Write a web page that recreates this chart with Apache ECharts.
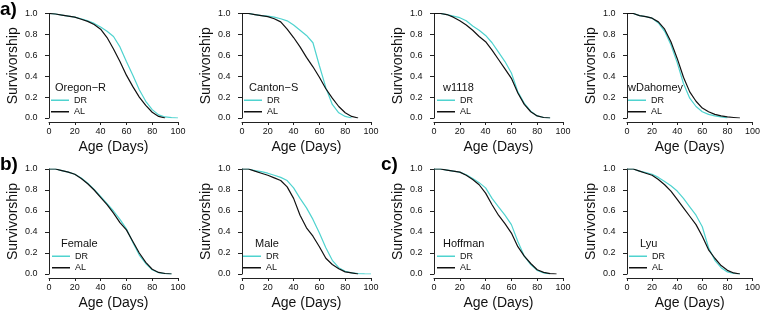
<!DOCTYPE html>
<html><head><meta charset="utf-8">
<script src="https://cdn.jsdelivr.net/npm/echarts@6/dist/echarts.min.js"></script>
<style>html,body{margin:0;padding:0;background:#fff}#c{width:763px;height:311px}</style>
</head><body><div id="c"></div>
<script>
// ---------- DATA ----------
const days = [0,5,10,15,20,25,30,35,40,45,50,55,60,65,70,75,80,85,90,95,100];
const panelNames = ['Oregon\u2212R','Canton\u2212S','w1118','wDahomey','Female','Male','Hoffman','Lyu'];
const seriesNames = ['DR','AL'];
const xTicks = [0,20,40,60,80,100];
const yTickLabels = ['0.0','0.2','0.4','0.6','0.8','1.0'];
const panelLetters = ['a)','b)','c)'];

const oregonDR   = [1,0.995,0.985,0.975,0.965,0.95,0.93,0.905,0.87,0.83,0.78,0.68,0.54,0.41,0.27,0.16,0.08,0.03,0.01,0.003,0];
const oregonAL   = [1,0.995,0.985,0.975,0.965,0.945,0.925,0.895,0.85,0.77,0.66,0.54,0.41,0.30,0.20,0.12,0.055,0.015,0];
const cantonDR   = [1,1,0.99,0.98,0.975,0.965,0.95,0.93,0.89,0.84,0.79,0.72,0.50,0.29,0.13,0.05,0.015,0];
const cantonAL   = [1,1,0.99,0.98,0.97,0.95,0.92,0.85,0.77,0.68,0.58,0.49,0.39,0.28,0.19,0.11,0.05,0.015,0];
const w1118DR    = [1,1,0.99,0.975,0.96,0.93,0.88,0.84,0.79,0.72,0.63,0.54,0.43,0.25,0.14,0.065,0.02,0.005,0];
const w1118AL    = [1,1,0.99,0.965,0.93,0.89,0.84,0.78,0.73,0.65,0.56,0.47,0.38,0.24,0.13,0.06,0.02,0.005,0];
const dahomeyDR  = [1,1,0.98,0.97,0.955,0.91,0.83,0.70,0.53,0.33,0.19,0.11,0.06,0.035,0.02,0.01,0];
const dahomeyAL  = [1,1,0.98,0.97,0.955,0.92,0.85,0.73,0.57,0.39,0.25,0.16,0.095,0.06,0.035,0.02,0.01,0.005,0];
const femaleDR   = [1,1,0.985,0.97,0.95,0.915,0.865,0.805,0.74,0.67,0.60,0.52,0.43,0.30,0.18,0.10,0.04,0.012,0.004,0];
const femaleAL   = [1,1,0.985,0.97,0.95,0.91,0.86,0.80,0.73,0.66,0.58,0.49,0.42,0.31,0.20,0.11,0.045,0.015,0.005,0];
const maleDR     = [1,1,0.985,0.975,0.96,0.94,0.92,0.89,0.82,0.72,0.63,0.52,0.39,0.25,0.13,0.06,0.025,0.01,0.003,0.001,0];
const maleAL     = [1,1,0.98,0.96,0.94,0.915,0.89,0.83,0.72,0.56,0.44,0.36,0.26,0.15,0.09,0.05,0.02,0.01,0];
const hoffmanDR  = [1,1,0.99,0.98,0.97,0.945,0.91,0.87,0.82,0.72,0.64,0.56,0.47,0.31,0.17,0.09,0.035,0.01,0];
const hoffmanAL  = [1,1,0.99,0.98,0.97,0.94,0.90,0.85,0.77,0.66,0.56,0.48,0.39,0.26,0.17,0.10,0.04,0.015,0.003,0];
const lyuDR      = [1,1,0.98,0.965,0.95,0.92,0.88,0.84,0.79,0.72,0.64,0.56,0.45,0.25,0.13,0.06,0.02,0.005,0];
const lyuAL      = [1,1,0.98,0.96,0.94,0.90,0.85,0.79,0.71,0.63,0.55,0.47,0.36,0.23,0.15,0.08,0.035,0.01,0];

const panelData = [
  [oregonDR, oregonAL], [cantonDR, cantonAL], [w1118DR, w1118AL], [dahomeyDR, dahomeyAL],
  [femaleDR, femaleAL], [maleDR, maleAL], [hoffmanDR, hoffmanAL], [lyuDR, lyuAL]
];

// ---------- LAYOUT ----------
const FONT = '"Liberation Sans", Arial, Helvetica, sans-serif';
const colors = ['#4fd3cf', '#111111'];
const gridLefts = [49, 242, 434, 627];
const gridW = 129;
const gridTops = [13.5, 169];
const gridH = [104.5, 105];
const legendTitleLeft = [55, 249, 443, 628, 61, 255, 443, 640];
const legendLineOffset = [2, 2, 3, 1, 3, 1, 3, 2];
const letterPos = [[0, 9.5], [0, 165], [381, 165]];

const grids = [], xAxes = [], yAxes = [], series = [], legends = [], titles = [];
for (let p = 0; p < 8; p++) {
  const col = p % 4, row = Math.floor(p / 4);
  const left = gridLefts[col], top = gridTops[row];
  grids.push({left: left, top: top, width: gridW, height: gridH[row]});
  xAxes.push({
    type: 'value', gridIndex: p, min: 0, max: 100, interval: 20, offset: 4,
    splitLine: {show: false},
    axisLine: {show: true, onZero: false, lineStyle: {color: '#222', width: 1}},
    axisTick: {show: true, length: 3, lineStyle: {color: '#222'}},
    axisLabel: {fontSize: 9, margin: 5, color: '#111', fontFamily: FONT,
      formatter: v => xTicks.includes(v) ? String(v) : ''},
    name: 'Age (Days)', nameLocation: 'middle', nameGap: 18,
    nameTextStyle: {fontSize: 14, color: '#111', fontFamily: FONT}
  });
  yAxes.push({
    type: 'value', gridIndex: p, min: 0, max: 1, interval: 0.2, offset: 5,
    splitLine: {show: false},
    axisLine: {show: true, lineStyle: {color: '#222', width: 1}},
    axisTick: {show: true, length: 4, lineStyle: {color: '#222'}},
    axisLabel: {fontSize: 9, margin: 6.5, color: '#111', fontFamily: FONT,
      formatter: v => yTickLabels[Math.round(v * 5)]},
    name: 'Survivorship', nameLocation: 'middle', nameGap: 24, nameRotate: 90,
    nameTextStyle: {fontSize: 14, color: '#111', fontFamily: FONT}
  });
  for (let s = 0; s < 2; s++) {
    const vals = panelData[p][s];
    series.push({
      type: 'line', name: seriesNames[s], xAxisIndex: p, yAxisIndex: p,
      data: vals.map((v, i) => [days[i], v]),
      showSymbol: false, symbol: 'none', color: colors[s],
      lineStyle: {width: 1.2, color: colors[s]}, z: 2 + s
    });
  }
  const legTop = row === 0 ? 94.5 : 250.5;
  legends.push({
    left: left + legendLineOffset[p], top: legTop, orient: 'vertical',
    data: seriesNames, icon: 'rect', itemWidth: 18, itemHeight: 1.5, itemGap: 0,
    padding: 0, selectedMode: false,
    textStyle: {fontSize: 9, lineHeight: 11.5, color: '#111', fontFamily: FONT}
  });
  titles.push({
    text: panelNames[p], left: legendTitleLeft[p], top: (row === 0 ? 87.5 : 243.5) - 6.5,
    padding: 0,
    textStyle: {fontSize: 11, fontWeight: 'normal', lineHeight: 13, color: '#111', fontFamily: FONT}
  });
}
panelLetters.forEach((t, i) => {
  titles.push({
    text: t, left: letterPos[i][0], top: letterPos[i][1] - 10.5, padding: 0,
    textStyle: {fontSize: 19, fontWeight: 'bold', lineHeight: 21, color: '#000', fontFamily: FONT}
  });
});

const chart = echarts.init(document.getElementById('c'), null, {renderer: 'canvas'});
chart.setOption({
  animation: false,
  backgroundColor: '#fff',
  title: titles,
  legend: legends,
  grid: grids,
  xAxis: xAxes,
  yAxis: yAxes,
  series: series
});
</script>
</body></html>
